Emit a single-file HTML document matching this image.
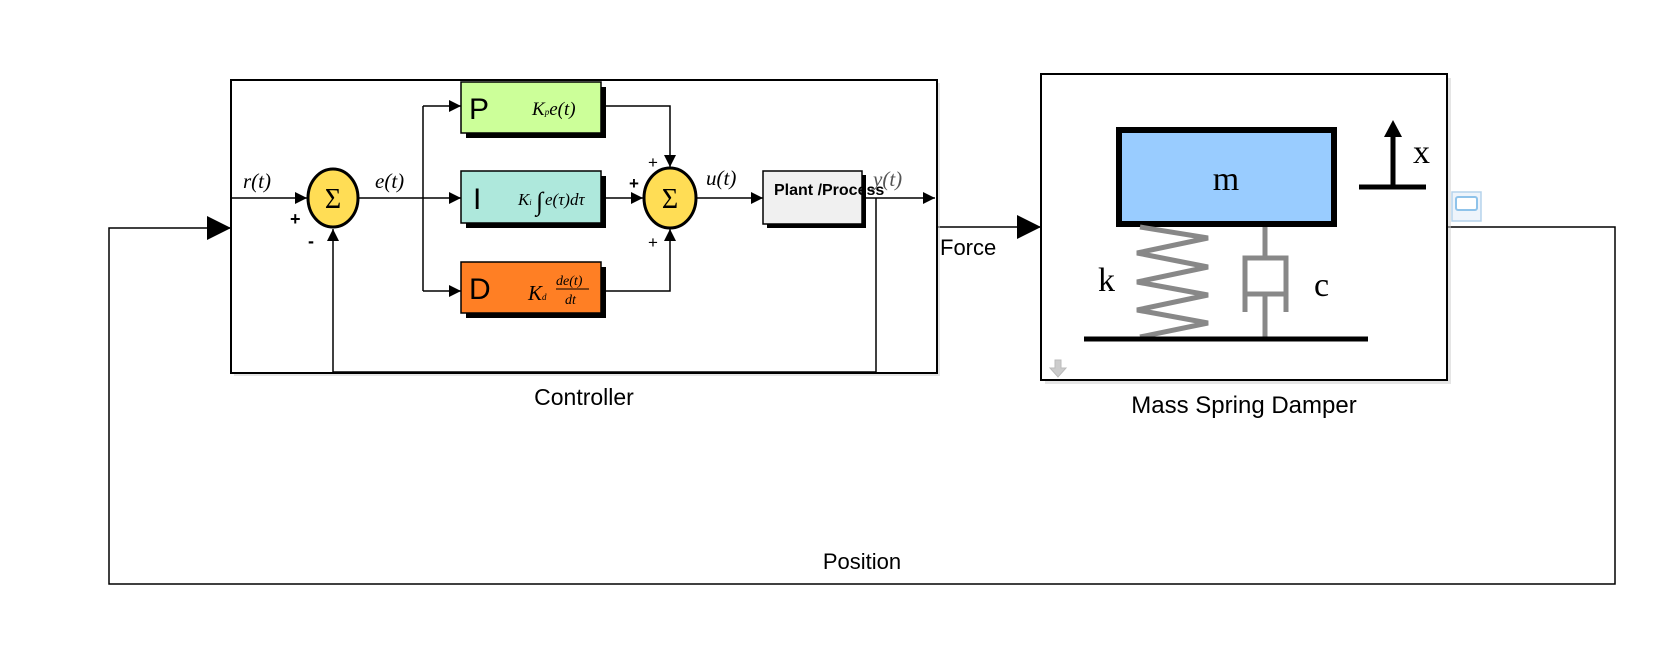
<!DOCTYPE html>
<html><head><meta charset="utf-8"><style>
html,body{margin:0;padding:0;background:#fff;}
svg{display:block;}
.m{font-family:"Liberation Serif",serif;font-style:italic;}
.s{font-family:"Liberation Sans",sans-serif;}
</style></head><body>
<svg width="1668" height="670" viewBox="0 0 1668 670" xmlns="http://www.w3.org/2000/svg">
<defs>
<marker id="a" viewBox="0 0 10 10" refX="10" refY="5" markerWidth="12" markerHeight="12" markerUnits="userSpaceOnUse" orient="auto"><path d="M0,0L10,5L0,10z" fill="#000"/></marker>
<marker id="b" viewBox="0 0 10 10" refX="10" refY="5" markerWidth="24" markerHeight="24" markerUnits="userSpaceOnUse" orient="auto"><path d="M0,0L10,5L0,10z" fill="#000"/></marker>
</defs>
<rect width="1668" height="670" fill="#fff"/>
<!-- outer feedback -->
<polyline points="1447,227 1615,227 1615,584 109,584 109,228 231,228" fill="none" stroke="#000" stroke-width="1.5" marker-end="url(#b)"/>
<line x1="937" y1="227" x2="1041" y2="227" stroke="#000" stroke-width="1.5" marker-end="url(#b)"/>
<!-- controller box -->
<rect x="234" y="83" width="706" height="293" fill="#ccc" opacity="0.5"/>
<rect x="231" y="80" width="706" height="293" fill="#fff" stroke="#000" stroke-width="2"/>
<!-- inner wires -->
<line x1="231" y1="198" x2="307" y2="198" stroke="#000" stroke-width="1.5" marker-end="url(#a)"/>
<line x1="359" y1="198" x2="461" y2="198" stroke="#000" stroke-width="1.5" marker-end="url(#a)"/>
<polyline points="423,106 423,291" fill="none" stroke="#000" stroke-width="1.5"/>
<line x1="423" y1="106" x2="461" y2="106" stroke="#000" stroke-width="1.5" marker-end="url(#a)"/>
<line x1="423" y1="291" x2="461" y2="291" stroke="#000" stroke-width="1.5" marker-end="url(#a)"/>
<polyline points="601,106 670,106 670,167" fill="none" stroke="#000" stroke-width="1.5" marker-end="url(#a)"/>
<line x1="601" y1="198" x2="643" y2="198" stroke="#000" stroke-width="1.5" marker-end="url(#a)"/>
<polyline points="601,291 670,291 670,229" fill="none" stroke="#000" stroke-width="1.5" marker-end="url(#a)"/>
<line x1="697" y1="198" x2="763" y2="198" stroke="#000" stroke-width="1.5" marker-end="url(#a)"/>
<line x1="862" y1="198" x2="935" y2="198" stroke="#000" stroke-width="1.5" marker-end="url(#a)"/>
<polyline points="876,198 876,372 333,372 333,229" fill="none" stroke="#000" stroke-width="1.5" marker-end="url(#a)"/>
<!-- PID blocks -->
<rect x="466" y="87" width="140" height="51" fill="#000"/>
<rect x="461" y="82" width="140" height="51" fill="#ccff99" stroke="#000" stroke-width="1.5"/>
<rect x="466" y="176" width="140" height="52" fill="#000"/>
<rect x="461" y="171" width="140" height="52" fill="#aee8dc" stroke="#000" stroke-width="1.5"/>
<rect x="466" y="267" width="140" height="51" fill="#000"/>
<rect x="461" y="262" width="140" height="51" fill="#ff7f24" stroke="#000" stroke-width="1.5"/>
<text x="469" y="119" class="s" font-size="30">P</text>
<text x="473" y="209" class="s" font-size="30">I</text>
<text x="469" y="299" class="s" font-size="30">D</text>
<text x="532" y="115" class="m" font-size="19">K<tspan font-size="9">p</tspan>e(t)</text>
<text x="518" y="205" class="m" font-size="17">K<tspan font-size="8">i</tspan></text>
<text x="536" y="210" class="m" font-size="26" font-style="normal">∫</text>
<text x="545" y="205" class="m" font-size="17">e(τ)dτ</text>
<text x="528" y="300" class="m" font-size="21">K<tspan font-size="9">d</tspan></text>
<text x="556" y="285" class="m" font-size="14">de(t)</text>
<line x1="556" y1="289" x2="589" y2="289" stroke="#000" stroke-width="1"/>
<text x="565" y="304" class="m" font-size="14">dt</text>
<!-- sums -->
<ellipse cx="333" cy="198" rx="25" ry="29" fill="#ffdd55" stroke="#000" stroke-width="3"/>
<text x="333" y="208" text-anchor="middle" font-family="Liberation Serif,serif" font-size="28">Σ</text>
<ellipse cx="670" cy="198" rx="26" ry="30" fill="#ffdd55" stroke="#000" stroke-width="3"/>
<text x="670" y="208" text-anchor="middle" font-family="Liberation Serif,serif" font-size="28">Σ</text>
<text x="290" y="225" class="s" font-size="18" font-weight="bold">+</text>
<text x="308" y="247" class="s" font-size="18" font-weight="bold">-</text>
<text x="648" y="168" class="s" font-size="17">+</text>
<text x="629" y="189" class="s" font-size="17" font-weight="bold">+</text>
<text x="648" y="248" class="s" font-size="17">+</text>
<text x="243" y="188" class="m" font-size="21">r(t)</text>
<text x="375" y="188" class="m" font-size="21">e(t)</text>
<text x="706" y="185" class="m" font-size="21">u(t)</text>
<!-- plant -->
<rect x="767" y="175" width="99" height="53" fill="#000"/>
<rect x="763" y="171" width="99" height="53" fill="#f0f0f0" stroke="#000" stroke-width="1.5"/>
<text x="873" y="186" class="m" font-size="21" fill="#555">y(t)</text>
<text x="774" y="195" class="s" font-size="16" font-weight="bold">Plant /Process</text>
<text x="940" y="255" class="s" font-size="22">Force</text>
<text x="584" y="405" class="s" font-size="23" text-anchor="middle">Controller</text>
<!-- mass spring damper box -->
<rect x="1045" y="78" width="406" height="306" fill="#ccc" opacity="0.5"/>
<rect x="1041" y="74" width="406" height="306" fill="#fff" stroke="#000" stroke-width="2"/>
<rect x="1119" y="130" width="215" height="94" fill="#99ccff" stroke="#000" stroke-width="6"/>
<text x="1226" y="190" text-anchor="middle" font-family="Liberation Serif,serif" font-size="34">m</text>
<polyline points="1140,227 1208,238 1137,253 1208,267 1137,282 1208,295 1137,310 1208,323 1140,337" fill="none" stroke="#888" stroke-width="5"/>
<line x1="1265" y1="227" x2="1265" y2="258" stroke="#888" stroke-width="5"/>
<polyline points="1245,312 1245,258 1286,258 1286,312" fill="none" stroke="#888" stroke-width="5"/>
<line x1="1245" y1="294" x2="1286" y2="294" stroke="#888" stroke-width="5"/>
<line x1="1265" y1="294" x2="1265" y2="339" stroke="#888" stroke-width="5"/>
<line x1="1084" y1="339" x2="1368" y2="339" stroke="#000" stroke-width="5"/>
<text x="1098" y="291" font-family="Liberation Serif,serif" font-size="34">k</text>
<text x="1314" y="296" font-family="Liberation Serif,serif" font-size="34">c</text>
<line x1="1359" y1="187" x2="1426" y2="187" stroke="#000" stroke-width="5"/>
<line x1="1393" y1="187" x2="1393" y2="134" stroke="#000" stroke-width="5"/>
<path d="M1384,137 L1393,120 L1402,137z" fill="#000"/>
<text x="1413" y="163" font-family="Liberation Serif,serif" font-size="34">x</text>
<rect x="1452" y="192" width="29" height="29" fill="#eef4fb" stroke="#b5d3ec" stroke-width="1.5"/>
<rect x="1456" y="197" width="21" height="13" fill="#fff" stroke="#8fc3ea" stroke-width="2" rx="2"/>
<path d="M1055,360 h6 v8 h5 l-8,9 l-8,-9 h5z" fill="#ccc" stroke="#bbb"/>
<text x="1244" y="413" class="s" font-size="24" text-anchor="middle">Mass Spring Damper</text>
<text x="862" y="569" class="s" font-size="22" text-anchor="middle">Position</text>
</svg>
</body></html>
